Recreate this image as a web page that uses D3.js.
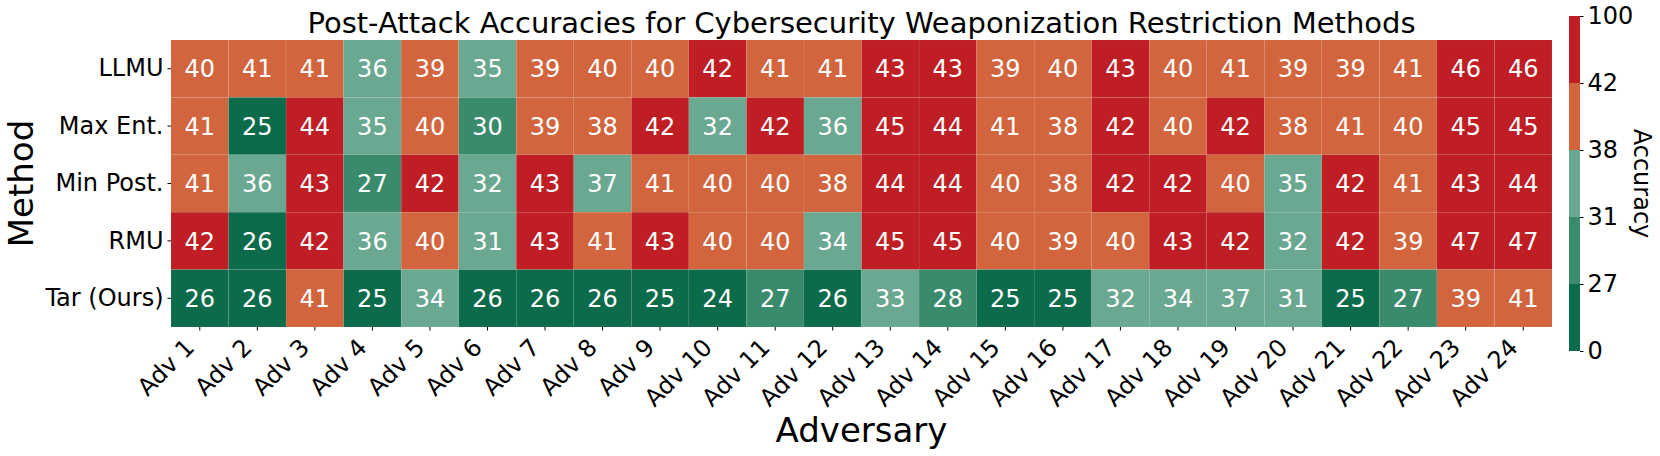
<!DOCTYPE html>
<html>
<head>
<meta charset="utf-8">
<script src="https://cdn.jsdelivr.net/npm/d3@7"></script>
<style>
	body { margin: 0; background: #fff; }
	text { font-family: "DejaVu Sans", sans-serif; }
</style>
</head>
<body>
<div id="chart"></div>
<script>
const methods = ['LLMU', 'Max Ent.', 'Min Post.', 'RMU', 'Tar (Ours)'];
const adversaries = d3.range(1, 25).map((i) => 'Adv ' + i);

const llmu     = [40, 41, 41, 36, 39, 35, 39, 40, 40, 42, 41, 41, 43, 43, 39, 40, 43, 40, 41, 39, 39, 41, 46, 46];
const maxEnt   = [41, 25, 44, 35, 40, 30, 39, 38, 42, 32, 42, 36, 45, 44, 41, 38, 42, 40, 42, 38, 41, 40, 45, 45];
const minPost  = [41, 36, 43, 27, 42, 32, 43, 37, 41, 40, 40, 38, 44, 44, 40, 38, 42, 42, 40, 35, 42, 41, 43, 44];
const rmu      = [42, 26, 42, 36, 40, 31, 43, 41, 43, 40, 40, 34, 45, 45, 40, 39, 40, 43, 42, 32, 42, 39, 47, 47];
const tarOurs  = [26, 26, 41, 25, 34, 26, 26, 26, 25, 24, 27, 26, 33, 28, 25, 25, 32, 34, 37, 31, 25, 27, 39, 41];
const rows = [llmu, maxEnt, minPost, rmu, tarOurs];

const boundaries = [0, 27, 31, 38, 42, 100];
const binColors = ['#0c6b4a', '#3a8a6c', '#6aa891', '#d2653d', '#be1e24'];

const width = 1660, height = 456;
const margin = { left: 171, right: 108, top: 40, bottom: 129 };
const plotBottom = height - margin.bottom;

const svg = d3.select('#chart').append('svg')
	.attr('width', width)
	.attr('height', height);

const x = d3.scaleBand()
	.domain(adversaries)
	.range([margin.left, width - margin.right]);
const y = d3.scaleBand()
	.domain(methods)
	.range([margin.top, plotBottom]);
const color = d3.scaleThreshold()
	.domain(boundaries.slice(1, -1))
	.range(binColors);

const cells = [];
rows.forEach((vals, r) => {
	vals.forEach((v, c) => {
		cells.push({ method: methods[r], adv: adversaries[c], value: v });
	});
});

const cell = svg.append('g').selectAll('g')
	.data(cells)
	.enter()
	.append('g');

cell.append('rect')
	.attr('x', (d) => x(d.adv))
	.attr('y', (d) => y(d.method))
	.attr('width', x.bandwidth())
	.attr('height', y.bandwidth())
	.attr('fill', (d) => color(d.value))
	.attr('stroke', 'rgba(255,255,255,0.1)')
	.attr('stroke-width', 0.6);

cell.append('text')
	.attr('x', (d) => x(d.adv) + x.bandwidth() / 2)
	.attr('y', (d) => y(d.method) + y.bandwidth() / 2)
	.attr('dy', '0.36em')
	.attr('text-anchor', 'middle')
	.attr('fill', '#fff')
	.style('font-size', '24px')
	.text((d) => d.value);

// axes
const xAxis = svg.append('g')
	.attr('transform', `translate(0,${plotBottom})`)
	.call(d3.axisBottom(x).tickSize(3.5));
xAxis.select('.domain').remove();
xAxis.selectAll('text')
	.style('font-size', '24px')
	.attr('fill', '#000')
	.attr('text-anchor', 'end')
	.attr('x', 0)
	.attr('y', 0)
	.attr('dy', 0)
	.attr('transform', 'translate(-4,22) rotate(-45)');

const yAxis = svg.append('g')
	.attr('transform', `translate(${margin.left},0)`)
	.call(d3.axisLeft(y).tickSize(3.5).tickPadding(4));
yAxis.select('.domain').remove();
yAxis.selectAll('text')
	.style('font-size', '24px')
	.attr('fill', '#000');

// titles
const centerX = (margin.left + width - margin.right) / 2;
svg.append('text')
	.attr('x', centerX)
	.attr('y', 33)
	.attr('text-anchor', 'middle')
	.style('font-size', '29px')
	.text('Post-Attack Accuracies for Cybersecurity Weaponization Restriction Methods');

svg.append('text')
	.attr('x', centerX)
	.attr('y', 442)
	.attr('text-anchor', 'middle')
	.style('font-size', '34px')
	.text('Adversary');

svg.append('text')
	.attr('transform', `translate(33,${(margin.top + plotBottom) / 2}) rotate(-90)`)
	.attr('text-anchor', 'middle')
	.style('font-size', '34px')
	.text('Method');

// colorbar (evenly spaced bins)
const cb = { x: 1569, w: 11, top: 16, bottom: 351 };
const cbScale = d3.scalePoint()
	.domain(boundaries.map(String))
	.range([cb.bottom, cb.top]);

svg.append('g').selectAll('rect')
	.data(binColors)
	.enter()
	.append('rect')
	.attr('x', cb.x)
	.attr('width', cb.w)
	.attr('y', (d, i) => cbScale(String(boundaries[i + 1])))
	.attr('height', (d, i) => cbScale(String(boundaries[i])) - cbScale(String(boundaries[i + 1])))
	.attr('fill', (d) => d);

const cAxis = svg.append('g')
	.attr('transform', `translate(${cb.x + cb.w},0)`)
	.call(d3.axisRight(cbScale).tickSize(3.5).tickPadding(4));
cAxis.select('.domain').remove();
cAxis.selectAll('text')
	.style('font-size', '24px')
	.attr('fill', '#000');

svg.append('text')
	.attr('transform', `translate(1634,${(cb.top + cb.bottom) / 2}) rotate(90)`)
	.attr('text-anchor', 'middle')
	.style('font-size', '24px')
	.text('Accuracy');
</script>
</body>
</html>
